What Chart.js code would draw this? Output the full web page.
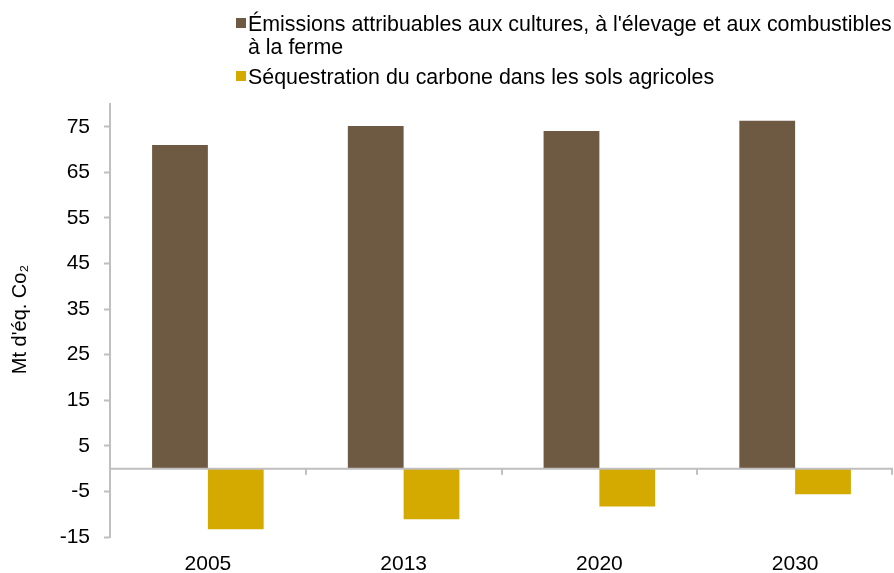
<!DOCTYPE html>
<html>
<head>
<meta charset="utf-8">
<script src="https://cdn.jsdelivr.net/npm/chart.js@4.4.1/dist/chart.umd.min.js"></script>
<style>
  body { margin: 0; background: #fff; }
  #wrap { position: relative; width: 894px; height: 573px; }
  #legend { position: absolute; left: 236px; top: 13px; font-family: 'Liberation Sans', Arial, sans-serif; font-size: 21.4px; color: #000; white-space: nowrap; }
  .item { position: relative; padding-left: 12px; line-height: 23px; }
  .item .box { position: absolute; left: 0; top: 5px; width: 10px; height: 10px; }
  .item + .item { margin-top: 7px; }
</style>
</head>
<body>
<div id="wrap">
  <canvas id="chart" width="894" height="573"></canvas>
  <div id="legend"></div>
</div>
<script>
const categories = ['2005', '2013', '2020', '2030'];
const seriesNames = [
    "Émissions attribuables aux cultures, à l'élevage et aux combustibles à la ferme",
    "Séquestration du carbone dans les sols agricoles"
];
const emissions = [71.0, 75.2, 74.1, 76.3];
const sequestration = [-13.3, -11.1, -8.3, -5.6];
const yTicks = [-15, -5, 5, 15, 25, 35, 45, 55, 65, 75];
const colors = ['#6e5a43', '#d4aa00'];
const axisGray = '#bfbfbf';
const fontFamily = '"Liberation Sans", Arial, sans-serif';

// Legende en HTML (le libellé long passe sur deux lignes)
const legendEl = document.getElementById('legend');
seriesNames.forEach((name, i) => {
    const div = document.createElement('div');
    div.className = 'item';
    div.innerHTML = '<span class="box" style="background:' + colors[i] + '"></span>' +
        (i === 0 ? "Émissions attribuables aux cultures, à l'élevage et aux combustibles<br>à la ferme" : name);
    legendEl.appendChild(div);
});

// ligne du zéro, petites marques de catégories et titre de l'axe y
const extrasPlugin = {
    id: 'extras',
    afterDatasetsDraw(chart) {
        const ctx = chart.ctx;
        const x = chart.scales.x, y = chart.scales.y;
        const y0 = y.getPixelForValue(0);
        const area = chart.chartArea;
        ctx.save();
        ctx.strokeStyle = axisGray;
        ctx.lineWidth = 2;
        ctx.beginPath();
        ctx.moveTo(area.left, y0);
        ctx.lineTo(area.right, y0);
        const step = x.width / categories.length;
        for (let i = 1; i <= categories.length; i++) {
            const px = Math.round(x.left + step * i) - (i === categories.length ? 1 : 0);
            ctx.moveTo(px, y0);
            ctx.lineTo(px, y0 + 6);
        }
        ctx.stroke();

        ctx.translate(20, (area.top + area.bottom) / 2 - 1);
        ctx.rotate(-Math.PI / 2);
        ctx.fillStyle = '#000';
        ctx.font = '20px ' + fontFamily;
        ctx.textAlign = 'center';
        ctx.textBaseline = 'middle';
        ctx.fillText("Mt d'éq. Co₂", 0, 0);
        ctx.restore();
    }
};

const ctx = document.getElementById('chart').getContext('2d');
new Chart(ctx, {
    type: 'bar',
    data: {
        labels: categories,
        datasets: [
            { label: seriesNames[0], data: emissions, backgroundColor: colors[0] },
            { label: seriesNames[1], data: sequestration, backgroundColor: colors[1] }
        ]
    },
    options: {
        responsive: false,
        animation: false,
        layout: { padding: { top: 104, right: 1, left: 0, bottom: 0 } },
        datasets: { bar: { categoryPercentage: 0.57, barPercentage: 1 } },
        plugins: {
            legend: { display: false },
            tooltip: { enabled: false }
        },
        scales: {
            x: {
                grid: { display: false, drawTicks: false },
                border: { display: false },
                ticks: { color: '#000', padding: 15, font: { family: fontFamily, size: 21 } },
                afterFit(scale) { scale.height = 36; }
            },
            y: {
                min: -15,
                max: 80,
                afterBuildTicks(scale) { scale.ticks = yTicks.map(v => ({ value: v })); },
                grid: { drawOnChartArea: false, drawTicks: true, tickLength: 6, tickColor: axisGray, tickWidth: 2 },
                border: { display: true, color: axisGray, width: 2 },
                ticks: { color: '#000', padding: 14, font: { family: fontFamily, size: 21 } },
                afterFit(scale) { scale.width = 110; }
            }
        }
    },
    plugins: [extrasPlugin]
});
</script>
</body>
</html>
